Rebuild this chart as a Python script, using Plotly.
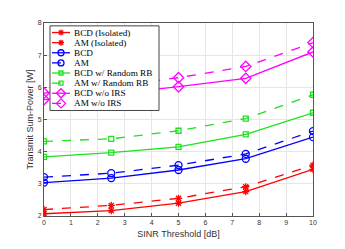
import plotly.graph_objects as go

sinr = [0, 2.5, 5, 7.5, 10]
bcd_iso = [2.07, 2.17, 2.40, 2.76, 3.45]
am_iso = [2.20, 2.33, 2.55, 2.91, 3.58]
bcd = [3.04, 3.18, 3.43, 3.78, 4.45]
am = [3.21, 3.33, 3.58, 3.93, 4.64]
bcd_rrb = [3.84, 3.97, 4.15, 4.54, 5.21]
am_rrb = [4.32, 4.40, 4.65, 5.03, 5.77]
bcd_noirs = [5.62, 5.78, 6.02, 6.28, 7.10]
am_noirs = [5.82, 6.02, 6.30, 6.65, 7.39]

names = ["BCD (Isolated)", "AM (Isolated)", "BCD", "AM",
         "BCD w/ Random RB", "AM w/ Random RB", "BCD w/o IRS", "AM w/o IRS"]
series = [bcd_iso, am_iso, bcd, am, bcd_rrb, am_rrb, bcd_noirs, am_noirs]
colors = ["#ff0000", "#ff0000", "#0000ff", "#0000ff",
          "#1fe01f", "#1fe01f", "#ff00ff", "#ff00ff"]
symbols = ["asterisk-open", "asterisk-open", "circle-open", "circle-open",
           "square-open", "square-open", "diamond-open", "diamond-open"]
sizes = [6, 6, 7, 7, 5, 5, 8, 8]

# page has an 8px body margin; plot area should sit at x 44..313, y 19..222 on screen
OFF = 8
W, H = 337, 241
PX0, PX1, PY0, PY1 = 44, 313, 19, 222
L, T = PX0 - OFF, PY0 - OFF
R, B = W - (PX1 - OFF), H - (PY1 - OFF)

fig = go.Figure()
for i, (n, y) in enumerate(zip(names, series)):
    dash = "solid" if i % 2 == 0 else "dash"
    fig.add_trace(go.Scatter(
        x=sinr, y=y, name=n, mode="lines+markers", showlegend=False,
        line=dict(color=colors[i], width=1.3, dash=dash),
        marker=dict(symbol=symbols[i], size=sizes[i], color=colors[i],
                    line=dict(color=colors[i], width=1.3)),
    ))

# --- compact legend drawn on an overlay axis measured in screen pixels ---
bx0, bx1, by0, by1 = 50, 159, 22, 111
fig.add_trace(go.Scatter(
    x=[bx0, bx1, bx1, bx0, bx0], y=[by0, by0, by1, by1, by0],
    xaxis="x2", yaxis="y2", mode="lines", fill="toself", fillcolor="white",
    line=dict(color="#444444", width=1), showlegend=False, hoverinfo="skip"))
row0, rowh = 29.0, 10.65
for i, n in enumerate(names):
    yy = row0 + i * rowh
    dash = "solid" if i % 2 == 0 else "dash"
    fig.add_trace(go.Scatter(
        x=[52, 61, 70], y=[yy, yy, yy], xaxis="x2", yaxis="y2",
        mode="lines", line=dict(color=colors[i], width=1.3, dash=dash),
        showlegend=False, hoverinfo="skip"))
    fig.add_trace(go.Scatter(
        x=[61], y=[yy], xaxis="x2", yaxis="y2", mode="markers",
        marker=dict(symbol=symbols[i], size=max(sizes[i] - 1, 4), color=colors[i],
                    line=dict(color=colors[i], width=1.3)),
        showlegend=False, hoverinfo="skip"))
    fig.add_annotation(x=71.5, y=yy, xref="x2", yref="y2", text=n, showarrow=False,
                       xanchor="left", yanchor="middle",
                       font=dict(family="Liberation Serif", size=9.2, color="#000000"))

axis_common = dict(showgrid=True, gridcolor="#e6e6e6", gridwidth=1,
                   showline=True, linecolor="#555555", linewidth=1, mirror=True,
                   ticks="inside", ticklen=3, tickcolor="#555555",
                   tickfont=dict(family="Liberation Sans", size=7, color="#333333"),
                   zeroline=False)
fig.update_layout(
    xaxis=dict(range=[0, 10], dtick=1,
               title=dict(text="SINR Threshold [dB]",
                          font=dict(family="Liberation Sans", size=9, color="#333333"),
                          standoff=5), **axis_common),
    yaxis=dict(range=[2, 8], dtick=1,
               title=dict(text="Transmit Sum-Power [W]",
                          font=dict(family="Liberation Sans", size=9, color="#333333"),
                          standoff=2), **axis_common),
    xaxis2=dict(range=[PX0, PX1], overlaying="x", visible=False, fixedrange=True),
    yaxis2=dict(range=[PY1, PY0], overlaying="y", visible=False, fixedrange=True),
    width=W, height=H,
    margin=dict(l=L, r=R, t=T, b=B),
    paper_bgcolor="white", plot_bgcolor="white",
    showlegend=False,
)

fig.write_html("out.html")
